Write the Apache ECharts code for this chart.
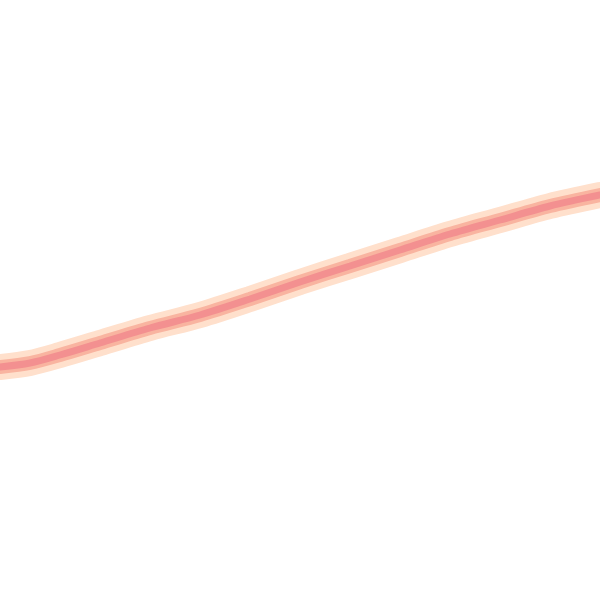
<!DOCTYPE html>
<html>
<head>
<meta charset="utf-8">
<script src="https://cdn.jsdelivr.net/npm/echarts@6/dist/echarts.min.js"></script>
<style>
  html, body { margin: 0; padding: 0; background: #fff; }
  #chart { width: 600px; height: 600px; }
</style>
</head>
<body>
<div id="chart"></div>
<script>
// positions along the curve
var xValues = [0, 30, 60, 100, 150, 200, 250, 300, 350, 400, 450, 500, 550, 600];
var yValues = [367, 363, 355, 343, 328, 315, 299, 282, 266, 250, 234, 220, 206, 195];

var points = xValues.map(function (x, i) { return [x, yValues[i]]; });

var chart = echarts.init(document.getElementById('chart'));
chart.setOption({
  backgroundColor: '#ffffff',
  animation: false,
  grid: { left: 0, right: 0, top: 0, bottom: 0 },
  xAxis: { type: 'value', min: 0, max: 600, show: false },
  yAxis: { type: 'value', min: 0, max: 600, inverse: true, show: false },
  series: [
    {
      // soft outer glow
      type: 'line',
      data: points,
      smooth: 0.3,
      symbol: 'none',
      lineStyle: { color: '#ffe0cc', width: 26, cap: 'round' }
    },
    {
      type: 'line',
      data: points,
      smooth: 0.3,
      symbol: 'none',
      lineStyle: { color: '#f9b4a0', width: 14, cap: 'round' }
    },
    {
      type: 'line',
      data: points,
      smooth: 0.3,
      symbol: 'none',
      lineStyle: { color: '#f39090', width: 7, cap: 'round' }
    }
  ]
});
</script>
</body>
</html>
